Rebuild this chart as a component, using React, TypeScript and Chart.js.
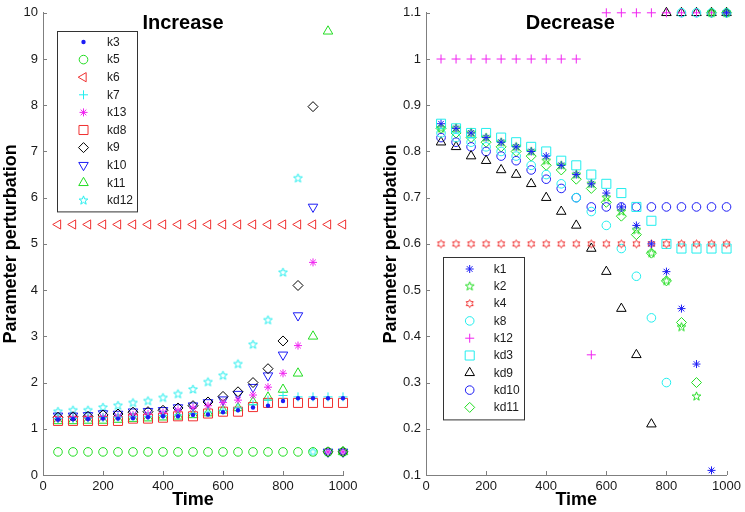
import React, { useEffect, useRef } from "react";
import { Chart, registerables } from "chart.js";
import { drawPoint } from "chart.js/helpers";

Chart.register(...registerables);

const FONT = "'Liberation Sans', Arial, Helvetica, sans-serif";
const AXIS = "#7f7f7f";
const TXT = "#1a1a1a";

// ---------- data ----------
const times = [50, 100, 150, 200, 250, 300, 350, 400, 450, 500, 550, 600, 650, 700, 750, 800, 850, 900, 950, 1000];

const incXTicks = [0, 200, 400, 600, 800, 1000];
const incYTicks = [0, 1, 2, 3, 4, 5, 6, 7, 8, 9, 10];
const decXTicks = [0, 200, 400, 600, 800, 1000];
const decYTicks = [0.1, 0.2, 0.3, 0.4, 0.5, 0.6, 0.7, 0.8, 0.9, 1, 1.1];

// Increase panel
const incK3 = [1.2, 1.21, 1.21, 1.22, 1.22, 1.23, 1.25, 1.27, 1.27, 1.3, 1.31, 1.36, 1.4, 1.46, 1.5, 1.6, 1.66, 1.66, 1.66, 1.66];
const incK5 = [0.5, 0.5, 0.5, 0.5, 0.5, 0.5, 0.5, 0.5, 0.5, 0.5, 0.5, 0.5, 0.5, 0.5, 0.5, 0.5, 0.5, 0.5, 0.5, 0.5];
const incK6 = [5.42, 5.42, 5.42, 5.42, 5.42, 5.42, 5.42, 5.42, 5.42, 5.42, 5.42, 5.42, 5.42, 5.42, 5.42, 5.42, 5.42, 5.42, 5.42, 5.42];
const incK7 = [1.22, 1.22, 1.23, 1.24, 1.25, 1.26, 1.27, 1.29, 1.3, 1.33, 1.36, 1.4, 1.45, 1.52, 1.62, 1.72, 1.69, 1.69, 1.69, 1.69];
const incK13 = [1.22, 1.23, 1.24, 1.25, 1.27, 1.3, 1.32, 1.35, 1.4, 1.45, 1.5, 1.57, 1.62, 1.73, 1.9, 2.2, 2.8, 4.6, 0.5, 0.5];
const incKd8 = [1.17, 1.17, 1.17, 1.17, 1.17, 1.22, 1.22, 1.24, 1.27, 1.27, 1.33, 1.37, 1.37, 1.47, 1.56, 1.56, 1.56, 1.56, 1.56, 1.56];
const incK9 = [1.25, 1.26, 1.27, 1.3, 1.32, 1.36, 1.37, 1.4, 1.45, 1.5, 1.58, 1.7, 1.8, 2.0, 2.3, 2.9, 4.1, 7.97, 0.5, 0.5];
const incK10 = [1.28, 1.28, 1.29, 1.33, 1.32, 1.37, 1.38, 1.4, 1.46, 1.5, 1.57, 1.63, 1.75, 1.9, 2.15, 2.6, 3.45, 5.8, 0.5, 0.5];
const incK11 = [1.17, 1.17, 1.18, 1.18, 1.2, 1.22, 1.23, 1.25, 1.27, 1.3, 1.34, 1.4, 1.45, 1.58, 1.68, 1.85, 2.2, 3.0, 9.6, 0.5];
const incKd12 = [1.37, 1.4, 1.4, 1.46, 1.5, 1.56, 1.6, 1.67, 1.75, 1.85, 2.01, 2.15, 2.4, 2.82, 3.35, 4.38, 6.42, 0.5, 0.5, 0.5];

// Decrease panel
const decK1 = [0.86, 0.85, 0.84, 0.83, 0.82, 0.81, 0.8, 0.79, 0.77, 0.75, 0.73, 0.71, 0.68, 0.64, 0.6, 0.54, 0.46, 0.34, 0.11, 1.1];
const decK2 = [0.85, 0.85, 0.84, 0.83, 0.82, 0.81, 0.8, 0.78, 0.77, 0.75, 0.73, 0.7, 0.67, 0.63, 0.58, 0.52, 0.42, 0.27, 1.1, 1.1];
const decK4 = [0.6, 0.6, 0.6, 0.6, 0.6, 0.6, 0.6, 0.6, 0.6, 0.6, 0.6, 0.6, 0.6, 0.6, 0.6, 0.6, 0.6, 0.6, 0.6, 0.6];
const decK8 = [0.84, 0.83, 0.82, 0.81, 0.8, 0.79, 0.77, 0.75, 0.73, 0.7, 0.67, 0.64, 0.59, 0.53, 0.44, 0.3, 1.1, 1.1, 1.1, 1.1];
const decK12 = [1, 1, 1, 1, 1, 1, 1, 1, 1, 1, 0.36, 1.1, 1.1, 1.1, 1.1, 1.1, 1.1, 1.1, 1.1, 1.1];
const decKd3 = [0.86, 0.85, 0.84, 0.84, 0.83, 0.82, 0.81, 0.8, 0.78, 0.77, 0.75, 0.73, 0.71, 0.68, 0.65, 0.6, 0.59, 0.59, 0.59, 0.59];
const decKd9 = [0.82, 0.81, 0.79, 0.78, 0.76, 0.75, 0.73, 0.7, 0.67, 0.64, 0.59, 0.54, 0.46, 0.36, 0.21, 1.1, 1.1, 1.1, 1.1, 1.1];
const decKd10 = [0.83, 0.82, 0.81, 0.8, 0.79, 0.78, 0.76, 0.74, 0.72, 0.7, 0.68, 0.68, 0.68, 0.68, 0.68, 0.68, 0.68, 0.68, 0.68, 0.68];
const decKd11 = [0.85, 0.84, 0.83, 0.82, 0.81, 0.8, 0.79, 0.77, 0.76, 0.74, 0.72, 0.69, 0.66, 0.62, 0.58, 0.52, 0.43, 0.3, 1.1, 1.1];

// ---------- styles ----------
const C = { b: "#1c1cf5", g: "#22dd22", r: "#f03030", c: "#22eeee", m: "#f022f0", k: "#000000" };

function starCanvas(points: number, outer: number, inner: number, color: string) {
  const size = Math.ceil(outer * 2 + 3);
  const cv = document.createElement("canvas");
  cv.width = size;
  cv.height = size;
  const c = cv.getContext("2d")!;
  c.strokeStyle = color;
  c.lineWidth = 1;
  c.beginPath();
  for (let i = 0; i < points * 2; i++) {
    const r = i % 2 === 0 ? outer : inner;
    const a = -Math.PI / 2 + (i * Math.PI) / points;
    const x = size / 2 + r * Math.cos(a);
    const y = size / 2 + r * Math.sin(a);
    if (i === 0) c.moveTo(x, y);
    else c.lineTo(x, y);
  }
  c.closePath();
  c.stroke();
  return cv;
}

type Marker = { style: any; radius: number; rotation?: number; fill?: boolean };

function makeDs(label: string, values: number[], color: string, mk: Marker) {
  return {
    label,
    data: values.map((v, i) => ({ x: times[i], y: v })),
    showLine: false,
    borderColor: color,
    backgroundColor: mk.fill ? color : "rgba(0,0,0,0)",
    pointStyle: mk.style,
    pointRadius: mk.radius,
    pointHoverRadius: mk.radius,
    pointRotation: mk.rotation ?? 0,
    pointBorderWidth: mk.fill ? 0 : 1,
    clip: false as any,
  };
}

const decorPlugin = {
  id: "decor",
  afterDraw(chart: any) {
    const o = chart.options.plugins.decor;
    const ctx: CanvasRenderingContext2D = chart.ctx;
    const { left, right, top, bottom } = chart.chartArea;
    const xs = chart.scales.x;
    const ys = chart.scales.y;
    ctx.save();
    // inward tick marks
    ctx.strokeStyle = AXIS;
    ctx.lineWidth = 1;
    ctx.beginPath();
    ys.ticks.forEach((t: any) => {
      const y = Math.round(ys.getPixelForValue(t.value)) + 0.5;
      ctx.moveTo(left, y);
      ctx.lineTo(left + 4, y);
    });
    xs.ticks.forEach((t: any) => {
      const x = Math.round(xs.getPixelForValue(t.value)) + 0.5;
      ctx.moveTo(x, bottom);
      ctx.lineTo(x, bottom - 4);
    });
    ctx.stroke();

    // title inside the axes
    ctx.fillStyle = "#000";
    ctx.font = `bold 20px ${FONT}`;
    ctx.textAlign = "center";
    ctx.textBaseline = "middle";
    ctx.fillText(o.title, (left + right) / 2 + o.titleDx, top + o.titleDy);

    // legend box
    const L = o.legend;
    const n = chart.data.datasets.length;
    const h = L.first + L.step * (n - 1) + L.first;
    ctx.fillStyle = "#fff";
    ctx.fillRect(L.x, L.y, L.w, h);
    ctx.strokeStyle = "#333";
    ctx.lineWidth = 1;
    ctx.strokeRect(Math.round(L.x) + 0.5, Math.round(L.y) + 0.5, L.w, h);
    ctx.font = `12px ${FONT}`;
    ctx.textAlign = "left";
    ctx.textBaseline = "middle";
    chart.data.datasets.forEach((d: any, i: number) => {
      const cy = L.y + L.first + i * L.step;
      const cx = L.x + L.mx;
      ctx.save();
      ctx.strokeStyle = d.borderColor;
      ctx.fillStyle = d.backgroundColor;
      ctx.lineWidth = d.pointBorderWidth;
      drawPoint(ctx, { pointStyle: d.pointStyle, rotation: d.pointRotation, radius: d.pointRadius, borderWidth: d.pointBorderWidth } as any, cx, cy);
      ctx.restore();
      ctx.fillStyle = TXT;
      ctx.fillText(d.label, L.x + L.tx, cy + 0.5);
    });
    ctx.restore();
  },
};

function buildConfig(
  datasets: any[],
  xTicks: number[],
  yTicks: number[],
  yWidth: number,
  rightPad: number,
  yTitlePad: number,
  decor: any
) {
  return {
    type: "scatter" as const,
    data: { datasets },
    plugins: [decorPlugin],
    options: {
      animation: false as const,
      responsive: false,
      events: [],
      layout: { padding: { top: 8, right: rightPad, left: 0, bottom: 0 } },
      plugins: {
        legend: { display: false },
        tooltip: { enabled: false },
        decor,
      },
      scales: {
        x: {
          type: "linear" as const,
          min: xTicks[0],
          max: xTicks[xTicks.length - 1],
          afterBuildTicks: (s: any) => {
            s.ticks = xTicks.map((v) => ({ value: v }));
          },
          afterFit: (s: any) => {
            s.height = 37;
          },
          grid: { display: false, drawTicks: false },
          border: { display: true, color: AXIS, width: 1 },
          ticks: {
            font: { family: FONT, size: 13 },
            color: TXT,
            padding: 4,
            maxRotation: 0,
            autoSkip: false,
            callback: (v: any) => String(v),
          },
          title: {
            display: true,
            text: "Time",
            color: "#000",
            font: { family: FONT, size: 18, weight: "bold" as const },
            padding: { top: 0, bottom: 1 },
          },
        },
        y: {
          type: "linear" as const,
          min: yTicks[0],
          max: yTicks[yTicks.length - 1],
          afterBuildTicks: (s: any) => {
            s.ticks = yTicks.map((v) => ({ value: v }));
          },
          afterFit: (s: any) => {
            s.width = yWidth;
          },
          grid: { display: false, drawTicks: false },
          border: { display: true, color: AXIS, width: 1 },
          ticks: {
            font: { family: FONT, size: 13 },
            color: TXT,
            padding: 5,
            autoSkip: false,
            callback: (v: any) => String(v),
          },
          title: {
            display: true,
            text: "Parameter perturbation",
            color: "#000",
            font: { family: FONT, size: 18, weight: "bold" as const },
            padding: { top: yTitlePad, bottom: 0 },
          },
        },
      },
    },
  };
}

function Panel({ kind }: { kind: "inc" | "dec" }) {
  const ref = useRef<HTMLCanvasElement>(null);
  useEffect(() => {
    if (!ref.current) return;
    let chart: Chart;
    if (kind === "inc") {
      const ds = [
        makeDs("k3", incK3, C.b, { style: "circle", radius: 2.2, fill: true }),
        makeDs("k5", incK5, C.g, { style: "circle", radius: 4.3 }),
        makeDs("k6", incK6, C.r, { style: "triangle", radius: 5.3, rotation: -90 }),
        makeDs("k7", incK7, C.c, { style: "cross", radius: 4.5 }),
        makeDs("k13", incK13, C.m, { style: "star", radius: 4 }),
        makeDs("kd8", incKd8, C.r, { style: "rect", radius: 6.4 }),
        makeDs("k9", incK9, C.k, { style: "rectRot", radius: 5 }),
        makeDs("k10", incK10, C.b, { style: "triangle", radius: 5.5, rotation: 180 }),
        makeDs("k11", incK11, C.g, { style: "triangle", radius: 5.5 }),
        makeDs("kd12", incKd12, C.c, { style: starCanvas(5, 4.6, 1.9, C.c), radius: 5 }),
      ];
      chart = new Chart(
        ref.current,
        buildConfig(ds, incXTicks, incYTicks, 43, 29, 0, {
          title: "Increase",
          titleDx: -10,
          titleDy: 10.5,
          legend: { x: 57, y: 31, w: 80, first: 11, step: 17.6, mx: 26.5, tx: 50 },
        }) as any
      );
    } else {
      const ds = [
        makeDs("k1", decK1, C.b, { style: "star", radius: 4 }),
        makeDs("k2", decK2, C.g, { style: starCanvas(5, 4.6, 1.9, C.g), radius: 5 }),
        makeDs("k4", decK4, C.r, { style: starCanvas(6, 4, 2.3, C.r), radius: 5 }),
        makeDs("k8", decK8, C.c, { style: "circle", radius: 4.3 }),
        makeDs("k12", decK12, C.m, { style: "cross", radius: 4.5 }),
        makeDs("kd3", decKd3, C.c, { style: "rect", radius: 6.4 }),
        makeDs("kd9", decKd9, C.k, { style: "triangle", radius: 5.5 }),
        makeDs("kd10", decKd10, C.b, { style: "circle", radius: 4.3 }),
        makeDs("kd11", decKd11, C.g, { style: "rectRot", radius: 5 }),
      ];
      chart = new Chart(
        ref.current,
        buildConfig(ds, decXTicks, decYTicks, 54, 18, 8.7, {
          title: "Decrease",
          titleDx: -6,
          titleDy: 10.5,
          legend: { x: 71, y: 257, w: 81, first: 12, step: 17.3, mx: 26.7, tx: 50.7 },
        }) as any
      );
    }
    return () => chart.destroy();
  }, [kind]);
  const w = kind === "inc" ? 372 : 373;
  return <canvas ref={ref} width={w} height={512} style={{ display: "block", width: w, height: 512 }} />;
}

export default function App() {
  return (
    <div style={{ position: "fixed", left: 0, top: 0, width: 745, height: 512, background: "#fff", display: "flex" }}>
      <Panel kind="inc" />
      <Panel kind="dec" />
    </div>
  );
}
